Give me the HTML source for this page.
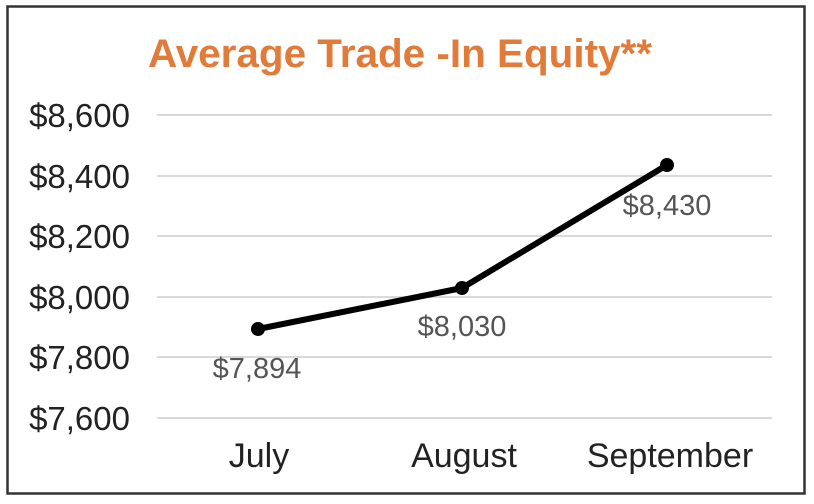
<!DOCTYPE html>
<html><head><style>
html,body{margin:0;padding:0;background:#fff;}
svg{display:block;}
</style></head><body>
<svg width="814" height="504" viewBox="0 0 814 504" xmlns="http://www.w3.org/2000/svg" font-family="Liberation Sans, Arial, sans-serif">
<rect x="0" y="0" width="814" height="504" fill="#fff"/>
<rect x="7.5" y="6.5" width="797" height="487" fill="#fff" stroke="#333" stroke-width="2.5"/>
<text x="148" y="67" font-size="40" font-weight="bold" fill="#E07B39" textLength="504" lengthAdjust="spacingAndGlyphs">Average Trade -In Equity**</text>
<g stroke="#d9d9d9" stroke-width="2">
<line x1="157" y1="115" x2="772" y2="115"/>
<line x1="157" y1="176" x2="772" y2="176"/>
<line x1="157" y1="236" x2="772" y2="236"/>
<line x1="157" y1="297" x2="772" y2="297"/>
<line x1="157" y1="357" x2="772" y2="357"/>
<line x1="157" y1="418" x2="772" y2="418"/>
</g>
<g font-size="33" fill="#222" text-anchor="end">
<text x="130" y="127">$8,600</text>
<text x="130" y="188">$8,400</text>
<text x="130" y="248">$8,200</text>
<text x="130" y="309">$8,000</text>
<text x="130" y="369">$7,800</text>
<text x="130" y="430">$7,600</text>
</g>
<g font-size="34" fill="#222" text-anchor="middle">
<text x="259" y="467">July</text>
<text x="464" y="467">August</text>
<text x="670" y="467">September</text>
</g>
<polyline points="258,329 462,288 667,165" fill="none" stroke="#000" stroke-width="6" stroke-linejoin="round"/>
<circle cx="258" cy="329" r="7" fill="#000"/>
<circle cx="462" cy="288" r="7" fill="#000"/>
<circle cx="667" cy="165" r="7" fill="#000"/>
<g font-size="29" fill="#555" text-anchor="middle">
<text x="257" y="378">$7,894</text>
<text x="462" y="336">$8,030</text>
<text x="667" y="215">$8,430</text>
</g>
</svg>
</body></html>
